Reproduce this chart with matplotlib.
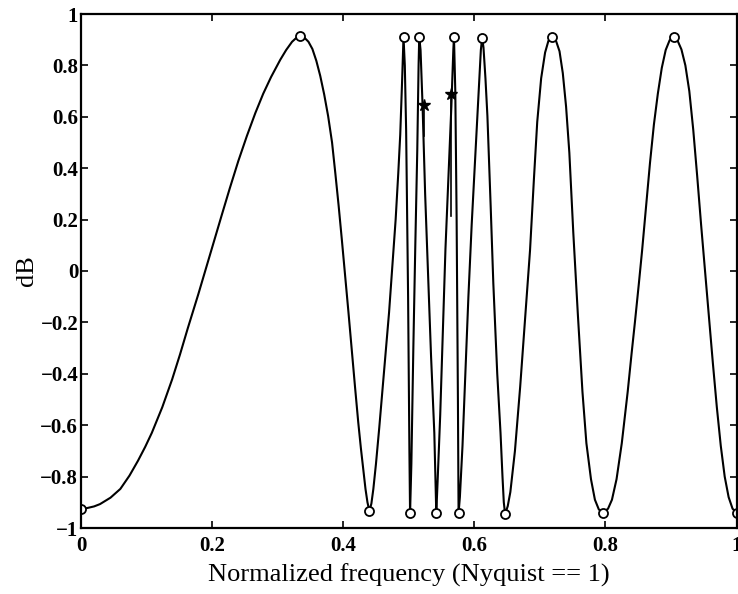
import matplotlib
matplotlib.use("Agg")
import matplotlib.pyplot as plt

# ---- data ----
curve_x = [0.000, 0.010, 0.020, 0.029, 0.045, 0.060, 0.074, 0.087, 0.098, 0.108, 0.124, 0.139, 0.151, 0.163, 0.179,
           0.190, 0.202, 0.215, 0.227, 0.240, 0.253, 0.266, 0.278, 0.290, 0.304, 0.313, 0.322, 0.328, 0.334,
           0.340, 0.347, 0.353, 0.359, 0.365, 0.371, 0.377, 0.383, 0.388, 0.393, 0.398, 0.403, 0.408, 0.413,
           0.418, 0.423, 0.427, 0.431, 0.434, 0.437, 0.440,
           0.443, 0.446, 0.450, 0.455, 0.460, 0.465, 0.470, 0.475, 0.480, 0.484, 0.487, 0.490, 0.492,
           0.494, 0.496, 0.499, 0.501, 0.502,
           0.504, 0.507, 0.510, 0.513, 0.515, 0.516,
           0.518, 0.521, 0.525, 0.530, 0.534, 0.539, 0.541, 0.542,
           0.544, 0.548, 0.552, 0.556, 0.562, 0.565, 0.568, 0.569,
           0.571, 0.573, 0.575, 0.576,
           0.578, 0.582, 0.586, 0.591, 0.596, 0.602, 0.607, 0.610, 0.612,
           0.614, 0.617, 0.620, 0.625, 0.629, 0.635, 0.640, 0.643, 0.645, 0.647,
           0.651, 0.655, 0.662, 0.670, 0.677, 0.685, 0.691, 0.696, 0.702, 0.708, 0.713, 0.719,
           0.725, 0.730, 0.735, 0.740, 0.745, 0.751, 0.758, 0.765, 0.771, 0.778, 0.784, 0.790, 0.797,
           0.804, 0.810, 0.817, 0.825, 0.834, 0.840, 0.845, 0.851, 0.856, 0.862, 0.868, 0.874, 0.880,
           0.886, 0.892, 0.898, 0.904,
           0.910, 0.916, 0.922, 0.928, 0.934, 0.940, 0.946, 0.952, 0.958, 0.964, 0.970, 0.976, 0.982,
           0.988, 0.994, 1.000]
curve_y = [-0.926, -0.922, -0.916, -0.907, -0.882, -0.848, -0.796, -0.738, -0.684, -0.630, -0.530, -0.422, -0.325, -0.222, -0.090,
           0.005, 0.108, 0.220, 0.322, 0.428, 0.525, 0.615, 0.690, 0.755, 0.822, 0.860, 0.892, 0.906, 0.914,
           0.910, 0.892, 0.864, 0.818, 0.759, 0.687, 0.603, 0.500, 0.380, 0.255, 0.120, -0.020, -0.160, -0.305,
           -0.450, -0.590, -0.690, -0.780, -0.848, -0.900, -0.934,
           -0.905, -0.848, -0.750, -0.610, -0.460, -0.310, -0.160, 0.020, 0.200, 0.380, 0.530, 0.750, 0.911,
           0.800, 0.550, -0.100, -0.700, -0.942,
           -0.750, -0.300, 0.100, 0.470, 0.800, 0.911,
           0.860, 0.650, 0.300, -0.050, -0.330, -0.630, -0.850, -0.942,
           -0.820, -0.560, -0.240, 0.086, 0.450, 0.640, 0.860, 0.911,
           0.700, 0.214, -0.500, -0.942,
           -0.880, -0.680, -0.420, -0.100, 0.180, 0.475, 0.720, 0.860, 0.907,
           0.870, 0.750, 0.603, 0.250, -0.047, -0.400, -0.630, -0.800, -0.900, -0.946,
           -0.915, -0.860, -0.700, -0.450, -0.200, 0.080, 0.360, 0.580, 0.750, 0.850, 0.895, 0.910,
           0.893, 0.855, 0.770, 0.640, 0.460, 0.150, -0.170, -0.470, -0.670, -0.810, -0.890, -0.928, -0.940,
           -0.925, -0.890, -0.810, -0.670, -0.470, -0.320, -0.200, -0.050, 0.080, 0.250, 0.420, 0.570, 0.690,
           0.790, 0.860, 0.898, 0.910,
           0.897, 0.862, 0.800, 0.700, 0.550, 0.370, 0.180, 0.000, -0.180, -0.360, -0.530, -0.680, -0.800,
           -0.880, -0.925, -0.940]

ext_x = [0.000, 0.334, 0.440, 0.492, 0.502, 0.516, 0.542, 0.569, 0.576, 0.612, 0.647, 0.719, 0.797, 0.904, 1.000]
ext_y = [-0.926, 0.914, -0.934, 0.911, -0.942, 0.911, -0.942, 0.911, -0.942, 0.907, -0.946, 0.910, -0.940, 0.910, -0.940]

star_x = [0.523, 0.564]
star_y = [0.646, 0.688]
star_line_bottom = [0.525, 0.214]

xticks = [0, 0.2, 0.4, 0.6, 0.8, 1.0]
xtick_labels = ["0", "0.2", "0.4", "0.6", "0.8", "1"]
yticks = [-1, -0.8, -0.6, -0.4, -0.2, 0, 0.2, 0.4, 0.6, 0.8, 1]
ytick_labels = ["\u22121", "\u22120.8", "\u22120.6", "\u22120.4", "\u22120.2", "0", "0.2", "0.4", "0.6", "0.8", "1"]

# ---- figure ----
plt.rcParams['font.family'] = ['Liberation Serif', 'DejaVu Serif']
fig = plt.figure(figsize=(7.38, 5.94), dpi=100)
ax = fig.add_axes([81 / 738, 1 - 528 / 594, (736.5 - 81) / 738, (528 - 14) / 594])

ax.plot(curve_x, curve_y, color='black', lw=1.5, solid_joinstyle='round')
ax.plot(ext_x, ext_y, linestyle='none', marker='o', markersize=6.5,
        markerfacecolor='white', markeredgecolor='black', markeredgewidth=1.3)
for sx, sy, sb in zip(star_x, star_y, star_line_bottom):
    ax.plot([sx, sx], [sy, sb], color='black', lw=1.2)
ax.plot(star_x, star_y, linestyle='none', marker='*', markersize=9, color='black')

ax.set_xlim(0, 1)
ax.set_ylim(-1, 1)
ax.set_xticks(xticks)
ax.set_xticklabels(xtick_labels, fontsize=15, fontweight='bold')
ax.set_yticks(yticks)
ax.set_yticklabels(ytick_labels, fontsize=15, fontweight='bold')
ax.tick_params(direction='in', length=5, width=1.2, top=True, right=True, pad=2)
ax.tick_params(axis='x', pad=6)
for s in ax.spines.values():
    s.set_linewidth(1.6)

ax.set_xlabel("Normalized frequency (Nyquist == 1)", fontsize=19, labelpad=5)
ax.set_ylabel("dB", fontsize=19, labelpad=2)

fig.savefig("out.png", dpi=100)
